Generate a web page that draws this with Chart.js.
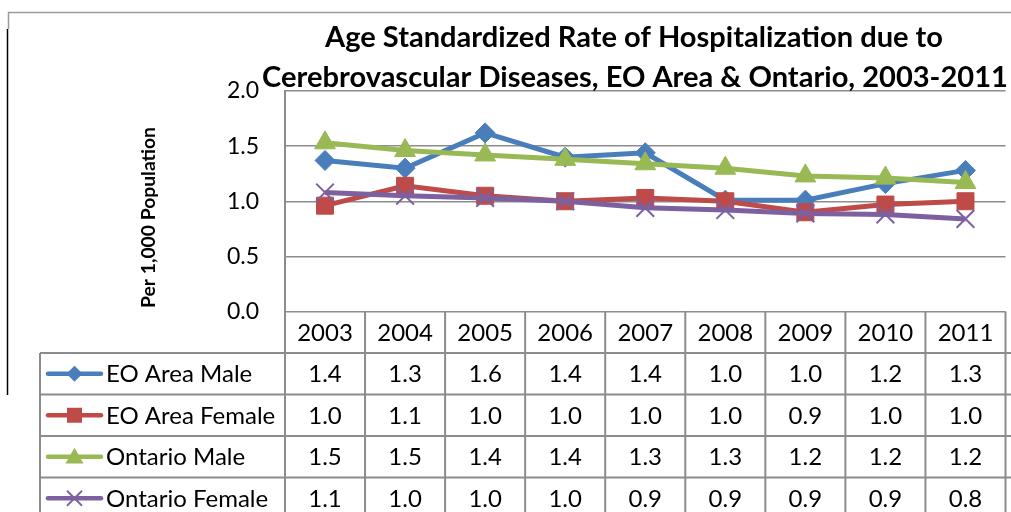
<!DOCTYPE html>
<html>
<head>
<meta charset="utf-8">
<script src="https://cdn.jsdelivr.net/npm/chart.js@4/dist/chart.umd.min.js"></script>
<style>
html,body{margin:0;padding:0;background:#fff;overflow:hidden;}
#wrap{width:1011px;height:512px;overflow:hidden;position:relative;}
canvas{display:block;}
</style>
</head>
<body>
<div id="wrap"><canvas id="c" width="1020" height="512"></canvas></div>
<script>
// ---- data ----
const years = ['2003','2004','2005','2006','2007','2008','2009','2010','2011'];
const seriesNames = ['EO Area Male','EO Area Female','Ontario Male','Ontario Female'];
const eoMale   = [1.37, 1.30, 1.62, 1.40, 1.44, 1.01, 1.01, 1.16, 1.28];
const eoFemale = [0.96, 1.14, 1.05, 1.00, 1.03, 1.00, 0.90, 0.97, 1.00];
const onMale   = [1.53, 1.46, 1.42, 1.38, 1.34, 1.30, 1.23, 1.21, 1.17];
const onFemale = [1.08, 1.05, 1.03, 1.00, 0.94, 0.92, 0.89, 0.88, 0.84];
const tblEoMale   = ['1.4','1.3','1.6','1.4','1.4','1.0','1.0','1.2','1.3'];
const tblEoFemale = ['1.0','1.1','1.0','1.0','1.0','1.0','0.9','1.0','1.0'];
const tblOnMale   = ['1.5','1.5','1.4','1.4','1.3','1.3','1.2','1.2','1.2'];
const tblOnFemale = ['1.1','1.0','1.0','1.0','0.9','0.9','0.9','0.9','0.8'];
const yTicks = [0, 0.5, 1.0, 1.5, 2.0];
const titleLines = ['Age Standardized Rate of Hospitalization due to','Cerebrovascular Diseases, EO Area & Ontario, 2003-2011'];
const yTitle = 'Per 1,000 Population';

// ---- styles ----
const colors = ['#4A7EBB','#BE4B48','#98B954','#7D60A0'];
const styles = ['rectRot','rect','triangle','crossRot'];
const FONT = 'Lato, "Liberation Sans", sans-serif';
const GRID = '#8c8c8c';

function drawMarker(ctx, style, x, y, r, color){
  ctx.save();
  ctx.fillStyle = color; ctx.strokeStyle = color;
  ctx.beginPath();
  if(style==='rectRot'){
    ctx.moveTo(x, y-r); ctx.lineTo(x+r, y); ctx.lineTo(x, y+r); ctx.lineTo(x-r, y); ctx.closePath(); ctx.fill();
  } else if(style==='rect'){
    ctx.rect(x-r, y-r, 2*r, 2*r); ctx.fill();
  } else if(style==='triangle'){
    ctx.moveTo(x, y-r); ctx.lineTo(x+r*1.0, y+r*0.75); ctx.lineTo(x-r*1.0, y+r*0.75); ctx.closePath(); ctx.fill();
  } else {
    ctx.lineWidth = 1.8;
    ctx.moveTo(x-r, y-r); ctx.lineTo(x+r, y+r); ctx.moveTo(x+r, y-r); ctx.lineTo(x-r, y+r); ctx.stroke();
  }
  ctx.restore();
}

function fitFont(ctx, text, weight, target){
  ctx.font = weight + ' 20px ' + FONT;
  const w = ctx.measureText(text).width;
  return 20 * target / w;
}

const decor = {
  id:'decor',
  afterDraw(chart){
    const ctx = chart.ctx;
    const ca = chart.chartArea;
    const xs = chart.scales.x;
    const colW = (ca.right - ca.left) / years.length;
    const top = ca.bottom;
    const rowH = 41.5;
    ctx.save();
    // outer frame
    ctx.strokeStyle = '#9a9a9a'; ctx.lineWidth = 1.5;
    ctx.beginPath(); ctx.moveTo(8, 12.5); ctx.lineTo(1020, 12.5); ctx.moveTo(8.5, 12.5); ctx.lineTo(8.5, 29); ctx.stroke();
    ctx.strokeStyle = '#000'; ctx.lineWidth = 1.5;
    ctx.beginPath(); ctx.moveTo(7.5, 29); ctx.lineTo(7.5, 395); ctx.stroke();

    // table grid
    ctx.strokeStyle = GRID; ctx.lineWidth = 2;
    ctx.beginPath();
    for(let i=0;i<=years.length;i++){
      const x = ca.left + i*colW;
      ctx.moveTo(x, top); ctx.lineTo(x, 512);
    }
    for(let r=1;r<=4;r++){
      const y = top + r*rowH;
      ctx.moveTo(40, y); ctx.lineTo(1020, y);
    }
    ctx.moveTo(40, top+rowH); ctx.lineTo(40, 512);
    ctx.stroke();

    // header years
    ctx.fillStyle = '#000';
    ctx.font = '24px ' + FONT;
    ctx.textAlign = 'center'; ctx.textBaseline = 'middle';
    years.forEach((yr,i)=>{ ctx.fillText(yr, xs.getPixelForValue(i), top + rowH/2 + 1); });
    const tbl = [tblEoMale, tblEoFemale, tblOnMale, tblOnFemale];
    tbl.forEach((row, r)=>{
      const cy = top + (r+1)*rowH + rowH/2 + 1;
      row.forEach((t,i)=>{ ctx.fillText(t, xs.getPixelForValue(i), cy); });
      // legend key
      ctx.strokeStyle = colors[r]; ctx.lineWidth = 4.5; ctx.lineCap = 'round';
      ctx.beginPath(); ctx.moveTo(48, cy-1); ctx.lineTo(101, cy-1); ctx.stroke();
      const lr = [8, 7.5, 9, 7][r];
      drawMarker(ctx, styles[r], 74.5, cy-1, lr, colors[r]);
      ctx.textAlign = 'left';
      ctx.fillStyle = '#000';
      ctx.fillText(seriesNames[r], 106, cy);
      ctx.textAlign = 'center';
    });

    // y axis title
    ctx.save();
    const ys = fitFont(ctx, yTitle, 'bold', 181);
    ctx.font = 'bold ' + ys + 'px ' + FONT;
    ctx.translate(148.5, 217.5);
    ctx.rotate(-Math.PI/2);
    ctx.textAlign = 'center'; ctx.textBaseline = 'middle';
    ctx.fillText(yTitle, 0, 0);
    ctx.restore();

    // chart title
    const ts = fitFont(ctx, titleLines[1], 'bold', 746);
    ctx.font = 'bold ' + ts + 'px ' + FONT;
    ctx.textAlign = 'center'; ctx.textBaseline = 'alphabetic';
    ctx.fillStyle = '#000';
    ctx.fillText(titleLines[0], 634, 46.5);
    ctx.fillText(titleLines[1], 635, 86.5);
    ctx.restore();
  }
};

function mk(i, data, radius, pbw){
  return {
    label: seriesNames[i], data,
    borderColor: colors[i], backgroundColor: colors[i],
    borderWidth: 5, tension: 0,
    pointStyle: styles[i], pointRadius: radius,
    pointBackgroundColor: colors[i], pointBorderColor: colors[i],
    pointBorderWidth: pbw, order: 4 - i
  };
}

function build(){
  new Chart(document.getElementById('c'), {
    type: 'line',
    data: {
      labels: years,
      datasets: [mk(0, eoMale, 10, 1), mk(1, eoFemale, 12, 1), mk(2, onMale, 12, 1), mk(3, onFemale, 12.5, 2)]
    },
    options: {
      responsive: false, animation: false, devicePixelRatio: 1,
      layout: { padding: { left: 0, right: 0.6, top: 91, bottom: 200.5 } },
      plugins: { legend: { display: false }, title: { display: false }, tooltip: { enabled: false } },
      scales: {
        x: { display: false, offset: true },
        y: {
          min: 0, max: 2,
          afterBuildTicks(s){ s.ticks = yTicks.map(v=>({value:v})); },
          ticks: { padding: 26, color: '#000', font: { family: FONT, size: 23 }, callback: v => Number(v).toFixed(1) },
          grid: { color: GRID, lineWidth: 1.5, drawTicks: false },
          border: { display: true, color: GRID, width: 2 },
          afterFit(s){ s.width = 285; }
        }
      }
    },
    plugins: [decor]
  });
}
if (document.fonts && document.fonts.load) {
  Promise.all([document.fonts.load('22px Lato'), document.fonts.load('bold 22px Lato')]).then(build, build);
} else build();
</script>
</body>
</html>
